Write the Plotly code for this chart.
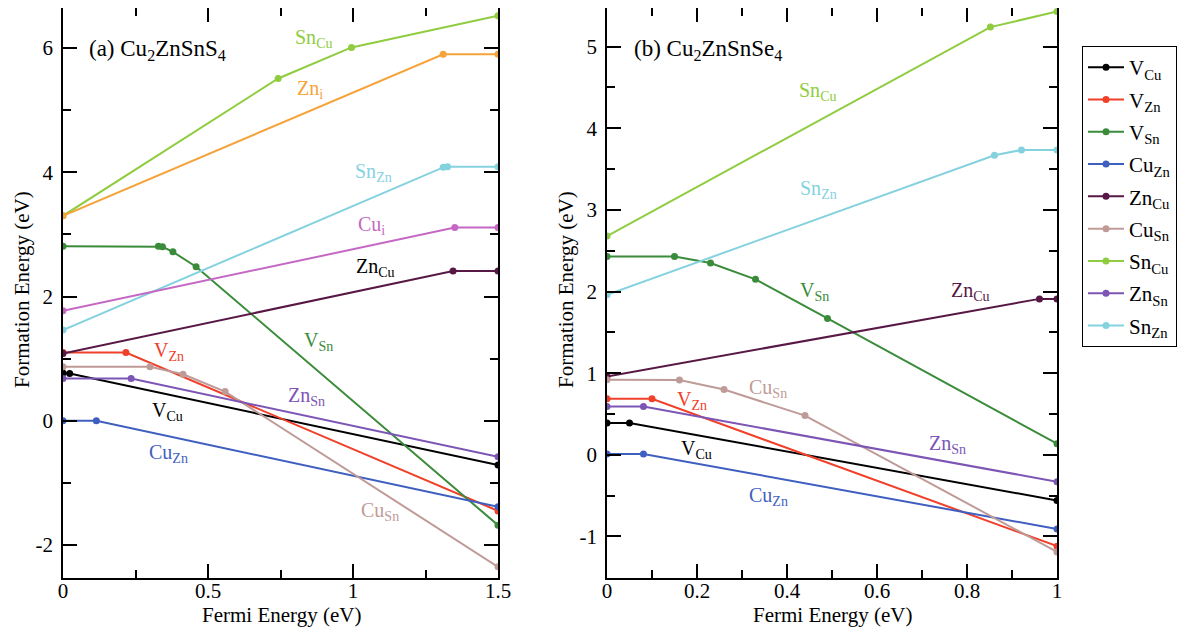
import plotly.graph_objects as go

# ---------------- data: panel (a) Cu2ZnSnS4 ----------------
a_VCu_x = [0, 0.023, 1.5];            a_VCu_y = [0.77, 0.76, -0.71]
a_VZn_x = [0, 0.217, 1.5];            a_VZn_y = [1.10, 1.10, -1.45]
a_VSn_x = [0, 0.329, 0.343, 0.379, 0.459, 1.5]
a_VSn_y = [2.81, 2.81, 2.80, 2.72, 2.48, -1.68]
a_CuZn_x = [0, 0.115, 1.5];           a_CuZn_y = [0.0, 0.0, -1.385]
a_ZnCu_x = [0, 1.345, 1.5];           a_ZnCu_y = [1.085, 2.41, 2.41]
a_CuSn_x = [0, 0.30, 0.414, 0.559, 1.5]
a_CuSn_y = [0.87, 0.87, 0.75, 0.47, -2.35]
a_SnCu_x = [0, 0.742, 0.995, 1.5];    a_SnCu_y = [3.30, 5.51, 6.01, 6.52]
a_ZnSn_x = [0, 0.235, 1.5];           a_ZnSn_y = [0.68, 0.68, -0.58]
a_SnZn_x = [0, 1.311, 1.326, 1.5];    a_SnZn_y = [1.46, 4.08, 4.09, 4.09]
a_Zni_x = [0, 1.311, 1.5];            a_Zni_y = [3.30, 5.90, 5.90]
a_Cui_x = [0, 1.351, 1.5];            a_Cui_y = [1.77, 3.11, 3.11]

# ---------------- data: panel (b) Cu2ZnSnSe4 ----------------
b_VCu_x = [0, 0.05, 1.0];             b_VCu_y = [0.39, 0.39, -0.56]
b_VZn_x = [0, 0.10, 1.0];             b_VZn_y = [0.685, 0.685, -1.12]
b_VSn_x = [0, 0.150, 0.230, 0.330, 0.490, 1.0]
b_VSn_y = [2.43, 2.43, 2.35, 2.15, 1.67, 0.135]
b_CuZn_x = [0, 0.081, 1.0];           b_CuZn_y = [0.01, 0.01, -0.91]
b_ZnCu_x = [0, 0.961, 1.0];           b_ZnCu_y = [0.96, 1.91, 1.91]
b_CuSn_x = [0, 0.161, 0.26, 0.44, 1.0]
b_CuSn_y = [0.92, 0.915, 0.80, 0.48, -1.19]
b_SnCu_x = [0, 0.852, 1.0];           b_SnCu_y = [2.68, 5.24, 5.43]
b_ZnSn_x = [0, 0.081, 1.0];           b_ZnSn_y = [0.59, 0.59, -0.33]
b_SnZn_x = [0, 0.861, 0.921, 1.0];    b_SnZn_y = [1.96, 3.67, 3.735, 3.735]

# tick values / labels
a_xticks = [0, 0.5, 1, 1.5];          a_xtext = ["0", "0.5", "1", "1.5"]
a_yticks = [-2, 0, 2, 4, 6];          a_ytext = ["-2", "0", "2", "4", "6"]
b_xticks = [0, 0.2, 0.4, 0.6, 0.8, 1]; b_xtext = ["0", "0.2", "0.4", "0.6", "0.8", "1"]
b_yticks = [-1, 0, 1, 2, 3, 4, 5];    b_ytext = ["-1", "0", "1", "2", "3", "4", "5"]

# legend / series names
names = ["V<sub>Cu</sub>", "V<sub>Zn</sub>", "V<sub>Sn</sub>", "Cu<sub>Zn</sub>",
         "Zn<sub>Cu</sub>", "Cu<sub>Sn</sub>", "Sn<sub>Cu</sub>", "Zn<sub>Sn</sub>",
         "Sn<sub>Zn</sub>"]
colors = ["#000000", "#f0402a", "#3a8c3a", "#3f5fc0", "#581845",
          "#bf9b98", "#8fcc3f", "#7c55b5", "#85d2df"]

a_series = [(a_VCu_x, a_VCu_y), (a_VZn_x, a_VZn_y), (a_VSn_x, a_VSn_y),
            (a_CuZn_x, a_CuZn_y), (a_ZnCu_x, a_ZnCu_y), (a_CuSn_x, a_CuSn_y),
            (a_SnCu_x, a_SnCu_y), (a_ZnSn_x, a_ZnSn_y), (a_SnZn_x, a_SnZn_y)]
b_series = [(b_VCu_x, b_VCu_y), (b_VZn_x, b_VZn_y), (b_VSn_x, b_VSn_y),
            (b_CuZn_x, b_CuZn_y), (b_ZnCu_x, b_ZnCu_y), (b_CuSn_x, b_CuSn_y),
            (b_SnCu_x, b_SnCu_y), (b_ZnSn_x, b_ZnSn_y), (b_SnZn_x, b_SnZn_y)]

SERIF = "Liberation Serif"
fig = go.Figure()

def add(x, y, name, color, xa, ya, show):
    fig.add_trace(go.Scatter(
        x=x, y=y, mode="lines+markers", name=name, legendgroup=name,
        showlegend=show, xaxis=xa, yaxis=ya,
        line=dict(color=color, width=2),
        marker=dict(color=color, size=7)))

for (x, y), n, c in zip(a_series, names, colors):
    add(x, y, n, c, "x", "y", True)
add(a_Zni_x, a_Zni_y, "Zn<sub>i</sub>", "#f5a33a", "x", "y", False)
add(a_Cui_x, a_Cui_y, "Cu<sub>i</sub>", "#c468c4", "x", "y", False)
for (x, y), n, c in zip(b_series, names, colors):
    add(x, y, n, c, "x2", "y2", False)

# inline labels: (text, x, y, color, axis-suffix, size)
labels = [
    ("(a) Cu<sub>2</sub>ZnSnS<sub>4</sub>", 0.083, 5.97, "#000000", "", 23),
    ("Sn<sub>Cu</sub>", 0.793, 6.15, "#8fcc3f", "", 20),
    ("Zn<sub>i</sub>", 0.80, 5.33, "#f5a33a", "", 20),
    ("Sn<sub>Zn</sub>", 1.0, 3.99, "#85d2df", "", 20),
    ("Cu<sub>i</sub>", 1.01, 3.15, "#c468c4", "", 20),
    ("Zn<sub>Cu</sub>", 1.003, 2.47, "#000000", "", 20),
    ("V<sub>Sn</sub>", 0.824, 1.275, "#3a8c3a", "", 20),
    ("V<sub>Zn</sub>", 0.307, 1.11, "#f0402a", "", 20),
    ("Zn<sub>Sn</sub>", 0.77, 0.386, "#7c55b5", "", 20),
    ("V<sub>Cu</sub>", 0.30, 0.145, "#000000", "", 20),
    ("Cu<sub>Zn</sub>", 0.29, -0.52, "#3f5fc0", "", 20),
    ("Cu<sub>Sn</sub>", 1.02, -1.46, "#bf9b98", "", 20),
    ("(b) Cu<sub>2</sub>ZnSnSe<sub>4</sub>", 0.056, 4.96, "#000000", "2", 23),
    ("Sn<sub>Cu</sub>", 0.423, 4.45, "#8fcc3f", "2", 20),
    ("Sn<sub>Zn</sub>", 0.425, 3.25, "#85d2df", "2", 20),
    ("V<sub>Sn</sub>", 0.425, 2.00, "#3a8c3a", "2", 20),
    ("Zn<sub>Cu</sub>", 0.759, 2.00, "#581845", "2", 20),
    ("Cu<sub>Sn</sub>", 0.312, 0.814, "#bf9b98", "2", 20),
    ("V<sub>Zn</sub>", 0.152, 0.67, "#f0402a", "2", 20),
    ("Zn<sub>Sn</sub>", 0.712, 0.12, "#7c55b5", "2", 20),
    ("V<sub>Cu</sub>", 0.159, 0.06, "#000000", "2", 20),
    ("Cu<sub>Zn</sub>", 0.31, -0.51, "#3f5fc0", "2", 20),
]
annotations = []
for t, x, y, c, s, fs in labels:
    annotations.append(dict(text=t, x=x, y=y, xref="x" + s, yref="y" + s,
                            xanchor="left", yanchor="middle", showarrow=False,
                            font=dict(family=SERIF, size=fs, color=c)))

# the page body adds an 8px offset; the figure is sized to fit inside it
OFF = 8
W, H = 1196 - 2 * OFF, 636 - 2 * OFF

def px(xpix):
    return (xpix - OFF) / W

def py(ypix):
    return 1 - (ypix - OFF) / H

# axis titles
for cx, txt in [(281, "Fermi Energy (eV)"), (832, "Fermi Energy (eV)")]:
    annotations.append(dict(text=txt, x=px(cx), y=py(615), xref="paper", yref="paper",
                            showarrow=False, xanchor="center", yanchor="middle",
                            font=dict(family=SERIF, size=21, color="black")))
for cx in [22, 566]:
    annotations.append(dict(text="Formation Energy (eV)", x=px(cx), y=py(290),
                            xref="paper", yref="paper", textangle=-90, showarrow=False,
                            xanchor="center", yanchor="middle",
                            font=dict(family=SERIF, size=21, color="black")))

ydom = [py(578), 1.0]
tickfont = dict(family=SERIF, size=21, color="black")

def axis(dom, rng, tv, tt, mdtick, anchor, standoff):
    return dict(domain=dom, range=rng, tickmode="array", tickvals=tv, ticktext=tt,
                anchor=anchor, automargin=False,
                showline=True, linecolor="black", linewidth=1.5, mirror="ticks",
                ticks="inside", ticklen=14, tickwidth=1.5, tickcolor="black",
                minor=dict(dtick=mdtick, tick0=0, ticks="inside", ticklen=8,
                           tickwidth=1.5, tickcolor="black", showgrid=False),
                showgrid=False, zeroline=False, tickfont=tickfont,
                ticklabelstandoff=standoff)

fig.update_layout(
    width=W, height=H,
    margin=dict(l=0, r=0, t=0, b=0, autoexpand=False),
    paper_bgcolor="white", plot_bgcolor="white",
    xaxis=axis([px(63), px(498)], [0, 1.5], a_xticks, a_xtext, 0.25, "y", -7),
    yaxis=axis(ydom, [-2.53, 6.645], a_yticks, a_ytext, 1, "x", 4),
    xaxis2=axis([px(607), px(1057)], [0, 1.0], b_xticks, b_xtext, 0.1, "y2", -7),
    yaxis2=axis(ydom, [-1.51, 5.474], b_yticks, b_ytext, 0.5, "x2", 4),
    annotations=annotations,
    legend=dict(x=px(1082), y=py(46), xanchor="left", yanchor="top",
                bordercolor="black", borderwidth=1, bgcolor="white",
                font=dict(family=SERIF, size=21, color="black"),
                itemwidth=36, tracegroupgap=2),
    showlegend=True,
)

fig.write_html("out.html")
